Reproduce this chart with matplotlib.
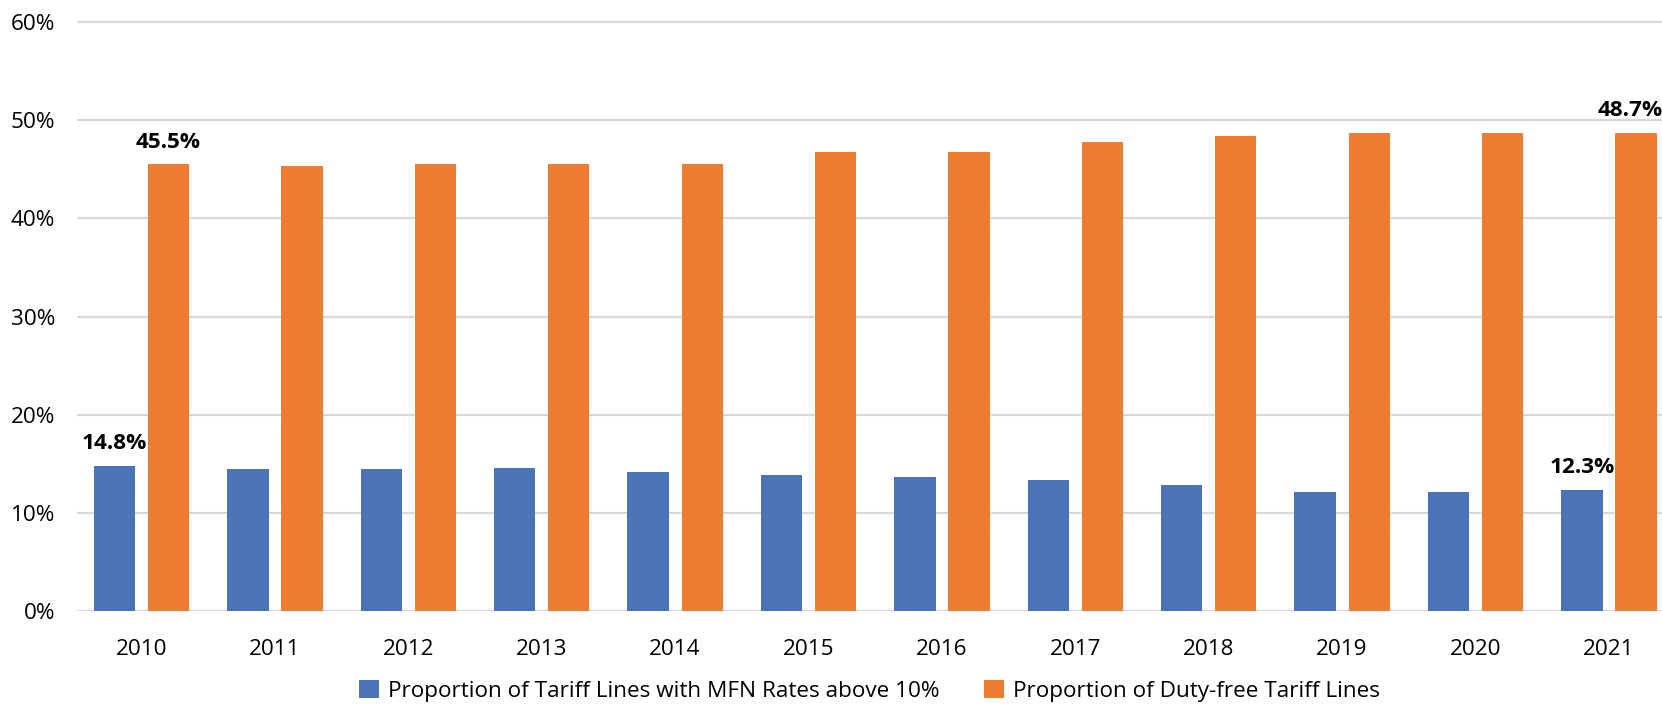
import matplotlib
matplotlib.use("Agg")
import matplotlib.pyplot as plt
import numpy as np

years = ["2010", "2011", "2012", "2013", "2014", "2015", "2016", "2017", "2018", "2019", "2020", "2021"]
mfn_above_10 = [14.8, 14.4, 14.4, 14.6, 14.1, 13.8, 13.6, 13.3, 12.8, 12.1, 12.1, 12.3]
duty_free = [45.5, 45.3, 45.5, 45.5, 45.5, 46.8, 46.8, 47.8, 48.4, 48.7, 48.7, 48.7]
series_names = ["Proportion of Tariff Lines with MFN Rates above 10%",
                "Proportion of Duty-free Tariff Lines"]
yticks = [0, 10, 20, 30, 40, 50, 60]

plt.rcParams['font.family'] = ['Open Sans', 'DejaVu Sans']
FS = 16.2

W, H = 1662, 705
fig = plt.figure(figsize=(W / 100, H / 100), dpi=100)

# axes geometry in pixels
left_px, right_px = 76.7, 1662
top_px, bottom_px = 17.4, 610.7
ax = fig.add_axes([left_px / W, 1 - bottom_px / H, (right_px - left_px) / W, (bottom_px - top_px) / H])

blue = '#4A73B8'
orange = '#ED7D31'
x = np.arange(len(years))
bw = 0.31
off = 0.203
b1 = ax.bar(x - off, mfn_above_10, bw, color=blue, label=series_names[0], zorder=3)
b2 = ax.bar(x + off, duty_free, bw, color=orange, label=series_names[1], zorder=3)

ax.set_ylim(0, 60.5)
ax.set_xlim(-0.486, 11.398)
ax.set_yticks(yticks)
ax.set_yticklabels([f"{v}%" for v in yticks])
ax.set_xticks(x)
ax.set_xticklabels(years)
ax.tick_params(axis='y', length=0, pad=15.6, labelsize=FS, labelcolor='#000000')
ax.tick_params(axis='x', length=0, pad=20.5, labelsize=FS, labelcolor='#000000')
for s in ax.spines.values():
    s.set_visible(False)
ax.yaxis.grid(True, color='#D9D9D9', linewidth=1.6, zorder=0)
ax.set_axisbelow(True)

# data labels on first and last year
last = len(years) - 1
labels_spec = [
    (x[0] - off, mfn_above_10[0], 0),
    (x[0] + off, duty_free[0], 0),
    (x[last] - off, mfn_above_10[last], 0),
    (x[last] + off, duty_free[last], -4),
]
for xs, v, dx in labels_spec:
    ax.annotate(f"{v:.1f}%", (xs, v), xytext=(dx, 12),
                textcoords='offset points', ha='center', va='baseline',
                fontsize=FS, fontweight='bold', color='#000000',
                annotation_clip=False)

leg = fig.legend(handles=[b1, b2], labels=series_names, loc='center',
                 bbox_to_anchor=(869.5 / W, 1 - 691 / H), ncol=2, frameon=False,
                 fontsize=FS, handlelength=0.87, handleheight=0.87, handletextpad=0.4,
                 columnspacing=2.0, borderpad=0, borderaxespad=0)

fig.savefig("out.png", dpi=100)
